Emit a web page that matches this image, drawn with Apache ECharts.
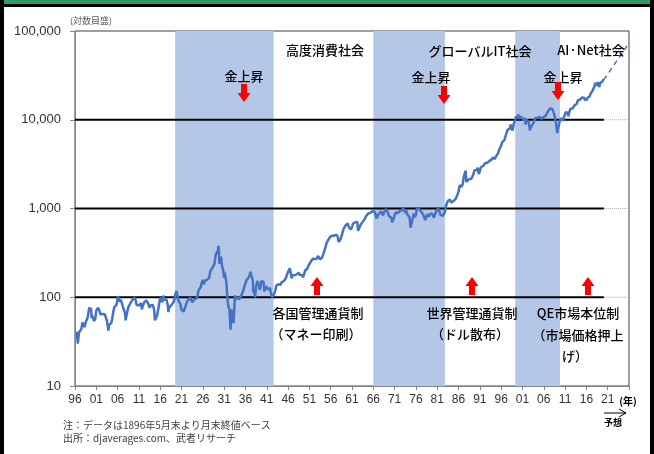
<!DOCTYPE html>
<html><head><meta charset="utf-8">
<script src="https://cdn.jsdelivr.net/npm/echarts@6/dist/echarts.min.js"></script>
<style>html,body{margin:0;padding:0;background:#fff}#c{width:654px;height:454px}</style>
</head><body><div id="c"></div>
<script>
// ---- data (DJIA month/quarter-end closes) ----
// rows: [year, Mar, Jun, Sep, Dec]
const quarterlyCloses = [
[1897,39,44,52,50],[1898,46,52,53,60],[1899,72,70,76,63],[1900,62,54,57,71],
[1901,73,78,70,64],[1902,66,65,66,64],[1903,62,54,45,49],[1904,48,51,58,69],
[1905,78,77,82,96],[1906,98,89,94,94],[1907,78,76,66,59],[1908,68,77,80,86],
[1909,88,94,98,99],[1910,92,81,80,81],[1911,84,86,75,82],[1912,88,89,92,88],
[1913,83,76,81,79],[1914,82,80,55,54],[1915,62,72,85,99],[1916,95,88,104,95],
[1917,95,93,83,74],[1918,78,82,83,82],[1919,90,107,111,107],[1920,92,91,83,72],
[1921,75,69,71,81],[1922,87,93,96,99],[1923,103,88,88,95],[1924,93,97,103,120],
[1925,116,130,146,157],[1926,140,154,158,157],[1927,161,166,197,200],[1928,214,210,239,300],
[1929,308,333,343,248],[1930,286,226,204,165],[1931,172,150,97,78],[1932,73,43,72,60],
[1933,55,98,94,100],[1934,101,95,92,104],[1935,101,119,132,144],[1936,156,160,167,180],
[1937,187,169,154,121],[1938,99,134,141,155],[1939,131,131,153,150],[1940,148,122,133,131],
[1941,122,123,127,111],[1942,100,103,109,119],[1943,136,143,140,136],[1944,138,148,146,152],
[1945,154,165,181,193],[1946,200,205,172,177],[1947,177,177,177,181],[1948,177,189,178,177],
[1949,178,168,182,200],[1950,206,209,226,235],[1951,248,242,271,269],[1952,270,274,271,292],
[1953,280,268,264,281],[1954,304,334,361,404],[1955,409,451,467,488],[1956,512,493,475,500],
[1957,475,503,456,436],[1958,446,478,532,584],[1959,602,644,632,679],[1960,617,641,580,616],
[1961,677,684,701,731],[1962,706,561,579,652],[1963,683,707,733,763],[1964,813,832,875,874],
[1965,889,868,931,969],[1966,924,870,774,786],[1967,865,860,927,905],[1968,840,898,936,944],
[1969,935,873,813,800],[1970,786,683,761,839],[1971,904,891,887,890],[1972,940,929,953,1020],
[1973,951,891,947,851],[1974,847,802,608,616],[1975,769,879,794,852],[1976,999,1003,990,1005],
[1977,919,916,847,831],[1978,757,819,866,805],[1979,862,842,879,839],[1980,786,868,932,964],
[1981,1004,977,850,875],[1982,823,812,896,1047],[1983,1130,1222,1233,1259],[1984,1165,1132,1207,1212],
[1985,1267,1336,1329,1547],[1986,1819,1893,1768,1896],[1987,2305,2419,2596,1939],[1988,1989,2142,2113,2169],
[1989,2293,2440,2693,2753],[1990,2707,2881,2453,2634],[1991,2914,2907,3017,3169],[1992,3236,3319,3272,3301],
[1993,3436,3516,3555,3754],[1994,3636,3625,3843,3834],[1995,4158,4556,4789,5117],[1996,5587,5655,5882,6448],
[1997,6584,7673,7945,7908],[1998,8800,8952,7843,9181],[1999,9786,10971,10337,11497],[2000,10922,10448,10651,10787],
[2001,9879,10502,8848,10022],[2002,10404,9243,7592,8342],[2003,7992,8985,9275,10454],[2004,10358,10435,10080,10783],
[2005,10504,10275,10569,10718],[2006,11109,11150,11679,12463],[2007,12354,13409,13896,13265],[2008,12263,11350,10851,8776],
[2009,7609,8447,9712,10428],[2010,10857,9774,10788,11578],[2011,12320,12414,10913,12218],[2012,13212,12880,13437,13104],
[2013,14579,14910,15130,16577],[2014,16458,16827,17043,17823],[2015,17776,17620,16285,17425],[2016,17685,17930,18308,19763],
[2017,20663,21350,22405,24719],[2018,24103,24271,26458,23327],[2019,25929,26600,26917,28538]
];
// extra month-end points: [year + month fraction, close]
const monthlyExtras = [
[1896.42,40.9],[1896.5,39],[1896.58,33],[1896.67,30],[1896.75,33],[1896.83,36],[1896.92,40],
[1899.33,77],[1899.92,58],[1901.42,76],[1903.83,42],[1906.08,103],[1907.88,55],[1911.67,73],
[1914.58,72],[1916.83,108],[1917.92,68],[1919.83,118],[1921.67,67],
[1929.67,380],[1929.83,273],[1929.92,238],[1930.33,294],[1931.17,190],[1932.58,54],[1932.67,73],
[1933.17,51],[1933.58,105],[1937.17,194],[1937.83,113],[1938.25,99],[1938.83,152],[1939.33,121],
[1940.42,116],[1942.33,95],[1946.42,212],[1946.83,163],[1949.5,167],[1953.67,256],
[1957.58,509],[1957.83,420],[1960.83,580],[1962.42,561],[1966.08,983],[1966.83,744],
[1968.92,985],[1970.42,700],[1973.08,999],[1974.75,608],[1976.75,990],[1978.17,742],
[1980.25,785],[1981.33,997],[1982.58,809],
[1987.67,2663],[1987.83,1994],[1990.58,2905],[1990.83,2442],[1997.83,7442],[1998.67,7539],
[2000.08,10128],[2002.58,8737],[2008.83,9325],[2008.92,8829],
[2009.17,7063],[2011.67,11614],[2015.67,16528],[2016.08,16466],[2018.08,26149],[2018.92,25538],[2020.08,28256]
];
const forecast = [[2020.08,28256],[2026,73000]];
const bandYears = [[1919.5,1942.6],[1966,1982.8],[1999.3,2009.8]];
const gridValues = [100,1000,10000];
const gridEndYear = 2020.1;
const xMin = 1896, xMax = 2026, xStep = 5;
const yMin = 10, yMax = 100000;

// ---- build ----
const djia = [];
quarterlyCloses.forEach(r => { for (let i = 1; i <= 4; i++) djia.push([r[0] + i * 0.25, r[i]]); });
monthlyExtras.forEach(p => djia.push(p));
djia.sort((a, b) => a[0] - b[0]);

const LAT = "'Liberation Sans', Arial, sans-serif";
const JP = "'Noto Sans CJK JP', sans-serif";

const series = [];
series.push({
  type: 'line', data: [], z: 1, silent: true,
  markArea: { silent: true, itemStyle: { color: '#B4C7E7', opacity: 1 },
    data: bandYears.map(b => [{ xAxis: b[0] }, { xAxis: b[1] }]) }
});
gridValues.forEach(v => {
  series.push({ type: 'line', z: 2, silent: true, showSymbol: false,
    data: [[xMin, v], [gridEndYear, v]], lineStyle: { color: '#000', width: 2 } });
  series.push({ type: 'line', z: 2, silent: true, showSymbol: false,
    data: [[gridEndYear, v], [xMax, v]], lineStyle: { color: '#A6A6A6', width: 1, type: 'dotted' } });
});
series.push({ type: 'line', z: 3, showSymbol: false, data: djia,
  lineStyle: { color: '#4472C4', width: 2.5 } });
series.push({ type: 'line', z: 3, showSymbol: false, data: forecast,
  lineStyle: { color: '#4472C4', width: 1.5, type: [5, 4] } });

function txt(t, x, y, size, opts) {
  return Object.assign({ type: 'text', z: 100, style: Object.assign({
    text: t, x: x, y: y, fill: '#000', font: (opts && opts.font) || ('normal ' + size + 'px ' + JP),
    textAlign: 'center', textVerticalAlign: 'middle' }, (opts && opts.style) || {}) });
}
function downArrow(cx, t) {
  return { type: 'polygon', z: 100, shape: { points: [[cx-3,t],[cx+3,t],[cx+3,t+9],[cx+6.5,t+9],[cx,t+18],[cx-6.5,t+9],[cx-3,t+9]] }, style: { fill: '#FF0000' } };
}
function upArrow(cx, t) {
  return { type: 'polygon', z: 100, shape: { points: [[cx,t],[cx+6.5,t+9],[cx+3,t+9],[cx+3,t+18],[cx-3,t+18],[cx-3,t+9],[cx-6.5,t+9]] }, style: { fill: '#FF0000' } };
}

const graphics = [
  { type: 'rect', z: 100, shape: { x: 0, y: 0, width: 654, height: 4 }, style: { fill: '#2F9A63' } },
  { type: 'rect', z: 100, shape: { x: 0, y: 4, width: 654, height: 3 }, style: { fill: '#000' } },
  { type: 'rect', z: 100, shape: { x: 0, y: 0, width: 4, height: 454 }, style: { fill: '#000' } },
  { type: 'rect', z: 100, shape: { x: 650, y: 0, width: 4, height: 454 }, style: { fill: '#000' } },
  txt('(対数目盛)', 70, 21, 9, { style: { textAlign: 'left', fill: '#595959' } }),
  txt('高度消費社会', 325, 50, 13, { font: '500 13px ' + JP }),
  txt('グローバルIT社会', 480, 51, 13, { font: '500 13px ' + JP }),
  txt('AI·Net社会', 591, 50, 13, { font: '500 13px ' + JP }),
  txt('金上昇', 244, 76, 13, { font: '500 13px ' + JP }),
  txt('金上昇', 431, 77, 13, { font: '500 13px ' + JP }),
  txt('金上昇', 563, 77, 13, { font: '500 13px ' + JP }),
  downArrow(244, 84), downArrow(444, 86), downArrow(558, 82),
  upArrow(317, 277), upArrow(472, 277), upArrow(588, 277),
  txt('各国管理通貨制', 318, 313, 13, { font: '500 13px ' + JP }),
  txt('（マネー印刷）', 316, 334, 13, { font: '500 13px ' + JP }),
  txt('世界管理通貨制', 472, 313, 13, { font: '500 13px ' + JP }),
  txt('（ドル散布）', 470, 334, 13, { font: '500 13px ' + JP }),
  txt('QE市場本位制', 578, 313, 13, { font: '500 13px ' + JP }),
  txt('（市場価格押上', 578, 335, 13, { font: '500 13px ' + JP }),
  txt('げ）', 575, 356, 13, { font: '500 13px ' + JP }),
  txt('(年)', 628, 401, 10, { font: 'bold 10px ' + JP }),
  { type: 'line', z: 100, shape: { x1: 604, y1: 413, x2: 626, y2: 413 }, style: { stroke: '#000', lineWidth: 1 } },
  { type: 'polyline', z: 100, shape: { points: [[619, 409], [626, 413], [619, 417]] }, style: { stroke: '#000', lineWidth: 1, fill: null } },
  txt('予想', 613, 423, 9, { font: 'bold 9px ' + JP }),
  txt('注：データは1896年5月末より月末終値ベース', 63, 425, 10, { style: { textAlign: 'left', fill: '#404040' } }),
  txt('出所：djaverages.com、武者リサーチ', 63, 438, 10, { style: { textAlign: 'left', fill: '#404040' } })
];

const chart = echarts.init(document.getElementById('c'), null, { renderer: 'canvas' });
chart.setOption({
  animation: false,
  backgroundColor: '#fff',
  grid: { left: 75, right: 25, top: 31, bottom: 68, show: true, borderColor: '#404040', borderWidth: 1, backgroundColor: 'transparent' },
  xAxis: {
    type: 'value', min: xMin, max: xMax, interval: xStep,
    axisLine: { show: true, lineStyle: { color: '#868686' } },
    axisTick: { show: true, length: 4, lineStyle: { color: '#868686' } },
    splitLine: { show: false },
    axisLabel: { color: '#333', fontSize: 12, fontFamily: LAT, margin: 8, showMaxLabel: true, showMinLabel: true,
      formatter: v => v > 2021 ? '' : String(v % 100).padStart(2, '0') }
  },
  yAxis: {
    type: 'log', logBase: 10, min: yMin, max: yMax,
    axisLine: { show: true, lineStyle: { color: '#868686' } },
    axisTick: { show: true, length: 5, lineStyle: { color: '#868686' } },
    splitLine: { show: false }, minorTick: { show: false },
    axisLabel: { color: '#333', fontSize: 13, fontFamily: LAT, margin: 14,
      formatter: v => Math.round(v).toLocaleString('en-US') }
  },
  series: series,
  graphic: graphics
});
</script></body></html>
